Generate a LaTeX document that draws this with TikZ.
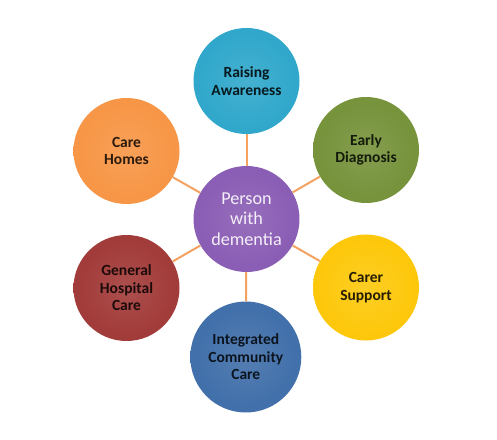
\documentclass[tikz,border=0pt]{standalone}
\usepackage{fontspec}
\setmainfont{Carlito}
\definecolor{cRA}{HTML}{31A8CB}
\definecolor{cED}{HTML}{77933C}
\definecolor{cCS}{HTML}{FDC80C}
\definecolor{cIC}{HTML}{4270AA}
\definecolor{cGH}{HTML}{A23C3A}
\definecolor{cCH}{HTML}{F79646}
\definecolor{cPW}{HTML}{8B5EB5}
\definecolor{link}{HTML}{F4A261}
\colorlet{bmain}{cRA}\colorlet{bedge}{cRA}\colorlet{blight}{cRA}
\pgfdeclareradialshading[bmain,bedge,blight]{bevel}{\pgfpoint{0bp}{0bp}}{color(0bp)=(blight); color(22bp)=(bmain); color(43bp)=(bmain); color(50bp)=(bedge)}
\tikzset{
  bub/.style={circle, shading=bevel, inner sep=0pt, minimum size=106pt, align=center,
    font=\fontsize{15.5}{17.5}\selectfont\bfseries},
  hub/.style={bub, font=\fontsize{18.2}{20.5}\selectfont, text=cPW!10!white},
  linkline/.style={draw=link, line width=2pt}
}
\newcommand\setbub[1]{\colorlet{bmain}{#1}\colorlet{bedge}{#1!80!black}\colorlet{blight}{#1!90!white}}
\begin{document}
\begin{tikzpicture}[x=1pt,y=1pt]
\useasboundingbox (0,0) rectangle (497,439);
\fill[white] (0,0) rectangle (497,439);
\setbub{cPW}
\node[hub] (pw) at (246.5,220) {Person\\with\\dementia};
\setbub{cRA}
\node[bub, text=cRA!15!black] (ra) at (246.5,358) {Raising\\Awareness};
\setbub{cED}
\node[bub, text=cED!18!black] (ed) at (366,289) {Early\\Diagnosis};
\setbub{cCS}
\node[bub, text=cCS!15!black] (cs) at (366,151.5) {Carer\\Support};
\setbub{cIC}
\node[bub, minimum size=111pt, text=cIC!18!black] (ic) at (245.8,82) {Integrated\\Community\\Care};
\setbub{cGH}
\node[bub, text=cGH!18!black] (gh) at (126.5,151) {General\\Hospital\\Care};
\setbub{cCH}
\node[bub, text=cCH!18!black] (ch) at (126.5,288) {Care\\Homes};
\foreach \n in {ra,ed,cs,ic,gh,ch}
  \draw[linkline] (pw) -- (\n);
\end{tikzpicture}
\end{document}
